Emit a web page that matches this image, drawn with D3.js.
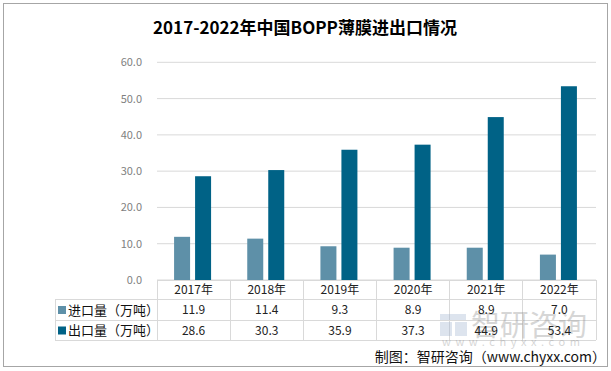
<!DOCTYPE html>
<html>
<head>
<meta charset="utf-8">
<script src="https://cdn.jsdelivr.net/npm/d3@7"></script>
<style>
  body { margin: 0; background: #fff; }
  text { font-family: "Noto Sans CJK SC", "Noto Sans", sans-serif; }
</style>
</head>
<body>
<svg id="chart"></svg>
<script>
const years = ["2017年", "2018年", "2019年", "2020年", "2021年", "2022年"];
const importVals = [11.9, 11.4, 9.3, 8.9, 8.9, 7.0];
const exportVals = [28.6, 30.3, 35.9, 37.3, 44.9, 53.4];
const seriesNames = ["进口量（万吨）", "出口量（万吨）"];
const seriesColors = ["#5e90a8", "#006286"];
const yTicks = [0, 10, 20, 30, 40, 50, 60];

const W = 611, H = 371;

const svg = d3.select("#chart").attr("width", W).attr("height", H);

// outer frame
svg.append("rect")
    .attr("x", 3.5).attr("y", 3.5)
    .attr("width", 604).attr("height", 363)
    .attr("fill", "#fff")
    .attr("stroke", "#a6a6a6");

svg.append("text")
    .attr("x", 305).attr("y", 34)
    .attr("text-anchor", "middle")
    .style("font-size", "17px")
    .style("font-weight", "bold")
    .text("2017-2022年中国BOPP薄膜进出口情况");

const x = d3.scaleBand().domain(years).range([157, 596]);
const y = d3.scaleLinear().domain([0, 60]).range([280, 62.3]);
const series = [importVals, exportVals];

const g = svg.append("g");

// grid
g.selectAll("line.grid")
    .data(yTicks)
    .enter().append("line")
    .attr("class", "grid")
    .attr("x1", x.range()[0]).attr("x2", x.range()[1])
    .attr("y1", d => y(d)).attr("y2", d => y(d))
    .attr("stroke", "#d9d9d9");

g.selectAll("text.ytick")
    .data(yTicks)
    .enter().append("text")
    .attr("class", "ytick")
    .attr("x", 142).attr("y", d => y(d) + 4)
    .attr("text-anchor", "end")
    .attr("fill", "#7f7f7f")
    .style("font-size", "11px")
    .text(d => d.toFixed(1));

// bars
const barW = 16, gap = 5;
series.forEach((vals, si) => {
    g.selectAll("rect.s" + si)
        .data(vals)
        .enter().append("rect")
        .attr("class", "s" + si)
        .attr("x", (d, i) => x(years[i]) + x.bandwidth() / 2 - barW - gap / 2 + si * (barW + gap) - 1)
        .attr("y", d => y(d))
        .attr("width", barW)
        .attr("height", d => y(0) - y(d))
        .attr("fill", seriesColors[si]);
});

// data table
const rowY = [280, 299.5, 320, 340];
const tbl = svg.append("g").attr("stroke", "#d9d9d9").attr("shape-rendering", "crispEdges");
tbl.append("line").attr("x1", 157).attr("x2", 596).attr("y1", rowY[0]).attr("y2", rowY[0]);
[1, 2, 3].forEach(r => {
    tbl.append("line").attr("x1", 55).attr("x2", 596).attr("y1", rowY[r]).attr("y2", rowY[r]);
});
tbl.append("line").attr("x1", 55).attr("x2", 55).attr("y1", rowY[1]).attr("y2", rowY[3]);
years.concat(["end"]).forEach((yr, i) => {
    const xx = i < years.length ? x(yr) : x.range()[1];
    tbl.append("line").attr("x1", xx).attr("x2", xx).attr("y1", rowY[0]).attr("y2", rowY[3]);
});

svg.selectAll("text.year")
    .data(years)
    .enter().append("text")
    .attr("class", "year")
    .attr("x", d => x(d) + x.bandwidth() / 2)
    .attr("y", 294)
    .attr("text-anchor", "middle")
    .style("font-size", "12px")
    .attr("fill", "#222")
    .text(d => d);

// watermark (sits under the table values, as in the source image)
const wm = svg.append("g").attr("opacity", 0.35);
wm.append("rect").attr("x", 440).attr("y", 314).attr("width", 26).attr("height", 6).attr("fill", "#9fb3d1");
wm.append("rect").attr("x", 440).attr("y", 322).attr("width", 12).attr("height", 14).attr("fill", "#9fb3d1");
wm.append("rect").attr("x", 455).attr("y", 322).attr("width", 12).attr("height", 14).attr("fill", "#9fb3d1");
wm.append("text")
    .attr("x", 471).attr("y", 336)
    .attr("fill", "#8c8c8c")
    .style("font-size", "29px")
    .text("智研咨询");
wm.append("text")
    .attr("x", 442).attr("y", 346)
    .attr("fill", "#8c8c8c")
    .style("font-size", "11px")
    .style("letter-spacing", "4.6px")
    .text("www.chyxx.com");

series.forEach((vals, si) => {
    svg.selectAll("text.v" + si)
        .data(vals)
        .enter().append("text")
        .attr("class", "v" + si)
        .attr("x", (d, i) => x(years[i]) + x.bandwidth() / 2)
        .attr("y", rowY[si + 1] + 14.5)
        .attr("text-anchor", "middle")
        .style("font-size", "12px")
        .attr("fill", "#222")
        .text(d => d.toFixed(1));

    svg.append("rect")
        .attr("x", 58).attr("y", rowY[si + 1] + 6.5)
        .attr("width", 8).attr("height", 8)
        .attr("fill", seriesColors[si]);
    svg.append("text")
        .attr("x", 68).attr("y", rowY[si + 1] + 15)
        .style("font-size", "13px")
        .attr("fill", "#111")
        .text(seriesNames[si]);
});

svg.append("text")
    .attr("x", 606).attr("y", 362)
    .attr("text-anchor", "end")
    .style("font-size", "14px")
    .attr("fill", "#111")
    .text("制图：智研咨询（www.chyxx.com）");
</script>
</body>
</html>
